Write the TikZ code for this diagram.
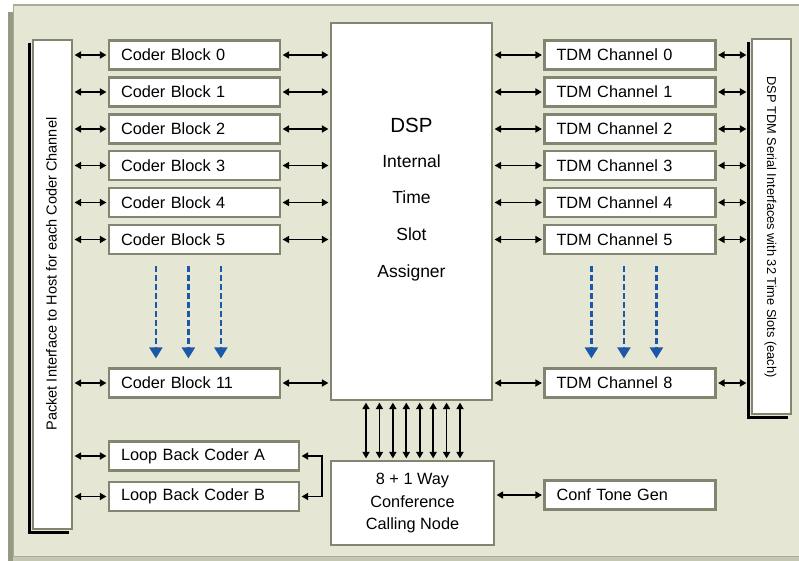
\documentclass[tikz,border=0pt]{standalone}
\usepackage{fontspec}
\setmainfont{Liberation Sans}
\usetikzlibrary{arrows.meta,calc}
\definecolor{panel}{RGB}{229,231,212}
\definecolor{panelshadowA}{RGB}{150,154,132}
\definecolor{panelshadowB}{RGB}{196,199,178}
\definecolor{panelborder}{RGB}{170,173,150}
\definecolor{boxborder}{RGB}{130,134,112}
\definecolor{dashblue}{RGB}{28,88,168}
\begin{document}
\begin{tikzpicture}[x=1pt,y=-1pt,
  box/.style={draw=boxborder, line width=2.2pt, fill=white, inner sep=0pt},
  blk/.style={box, minimum width=171pt, minimum height=29pt, text width=147pt, align=left,
              font=\fontsize{16.3}{19}\selectfont},
  lbblk/.style={box, minimum width=190pt, minimum height=29pt, text width=166pt, align=left,
              font=\fontsize{16.3}{19}\selectfont},
  bidir/.style={{Triangle[length=6.5pt,width=7pt]}-{Triangle[length=6.5pt,width=7pt]},
              line width=1.7pt, shorten <=1.5pt, shorten >=1.5pt},
  dsparrow/.style={-{Triangle[length=11pt,width=13pt]}, dashblue, line width=2.2pt,
              dash pattern=on 6pt off 3pt},
  dsptxt/.style={anchor=base, font=\fontsize{17.5}{20}\selectfont, inner sep=0pt},
  shadowline/.style={black, line width=3pt}
]
\useasboundingbox (0,0) rectangle (799,561);
% panel
\fill[white] (0,0) rectangle (799,561);
\fill[panelshadowB] (8,12) rectangle (799,561);
\fill[panelshadowA] (8,12) rectangle (13,561);
\fill[panel] (13,5) rectangle (799,556);
\draw[panelborder, line width=1.5pt] (13,5) -- (799,5);
\draw[panelborder, line width=1pt] (13,5) -- (13,556) -- (799,556);

% side boxes
\node[box, minimum width=39pt, minimum height=489pt] (lbox) at (52.5,284.5) {};
\node[rotate=90, font=\fontsize{14.5}{17}\selectfont, inner sep=0pt] (ltext) at (51.5,274) {Packet Interface to Host for each Coder Channel};
\draw[shadowline] ($(lbox.north west)+(-2.5,4)$) |- ($(lbox.south east)+(-4,2.5)$);

\node[box, minimum width=39pt, minimum height=375pt] (rbox) at (771.5,226.5) {};
\node[rotate=-90, font=\fontsize{12.8}{15}\selectfont, inner sep=0pt] (rtext) at (770.5,227) {DSP TDM Serial Interfaces with 32 Time Slots (each)};
\draw[shadowline] ($(rbox.north west)+(-2.5,4)$) |- ($(rbox.south east)+(-4,2.5)$);
\coordinate (rline) at ($(rbox.west)+(-3,0)$);

% DSP box
\node[box, minimum width=161pt, minimum height=377pt] (dsp) at (411.5,211.5) {};
\node[dsptxt, font=\fontsize{20.5}{24}\selectfont] (d1) at (411.5,133) {DSP};
\node[dsptxt] (d2) at (411.5,168) {Internal};
\node[dsptxt] (d3) at (411.5,204) {Time};
\node[dsptxt] (d4) at (411.5,240) {Slot};
\node[dsptxt] (d5) at (411.5,277) {Assigner};

% coder blocks and TDM channels
\foreach \i/\y in {0/55,1/92,2/129,3/165.5,4/202.5,5/239.5}{
  \node[blk] (c\i) at (194.5,\y) {Coder Block \i};
  \node[blk] (t\i) at (630,\y) {TDM Channel \i};
  \draw[bidir] (c\i.west -| lbox.east) -- (c\i.west);
  \draw[bidir] (c\i.east) -- (c\i.east -| dsp.west);
  \draw[bidir] (t\i.west -| dsp.east) -- (t\i.west);
  \draw[bidir] (t\i.east) -- (t\i.east -| rline);
}
\node[blk] (c11) at (194.5,383) {Coder Block 11};
\node[blk] (t8) at (630,383) {TDM Channel 8};
\draw[bidir] (c11.west -| lbox.east) -- (c11.west);
\draw[bidir] (c11.east) -- (c11.east -| dsp.west);
\draw[bidir] (t8.west -| dsp.east) -- (t8.west);
\draw[bidir] (t8.east) -- (t8.east -| rline);

% dashed blue arrows
\foreach \dx in {48,80.5,113}{
  \draw[dsparrow] ($(c5.south west)+(\dx,11)$) -- ($(c11.north west)+(\dx,-9)$);
  \draw[dsparrow] ($(t5.south west)+(\dx,11)$) -- ($(t8.north west)+(\dx,-9)$);
}

% loop back coders
\node[lbblk] (la) at (204,456) {Loop Back Coder A};
\node[lbblk] (lb) at (204,496.5) {Loop Back Coder B};
\draw[bidir] (la.west -| lbox.east) -- (la.west);
\draw[bidir] (lb.west -| lbox.east) -- (lb.west);
\coordinate (brk) at (322,476);
\draw[bidir] (la.east) -- (la.east -| brk) -- (lb.east -| brk) -- (lb.east);

% conference
\node[box, minimum width=163pt, minimum height=84pt, align=center,
      font=\fontsize{16.3}{22.5}\selectfont] (conf) at (412.5,503) {8 + 1 Way\\Conference\\Calling Node};
\foreach \k in {0,...,7}{
  \coordinate (vx\k) at (366+13.43*\k,0);
  \draw[bidir] (vx\k |- dsp.south) -- (vx\k |- conf.north);
}
\node[blk] (tone) at (630,495) {Conf Tone Gen};
\draw[bidir] (tone.west -| conf.east) -- (tone.west);
\end{tikzpicture}
\end{document}
